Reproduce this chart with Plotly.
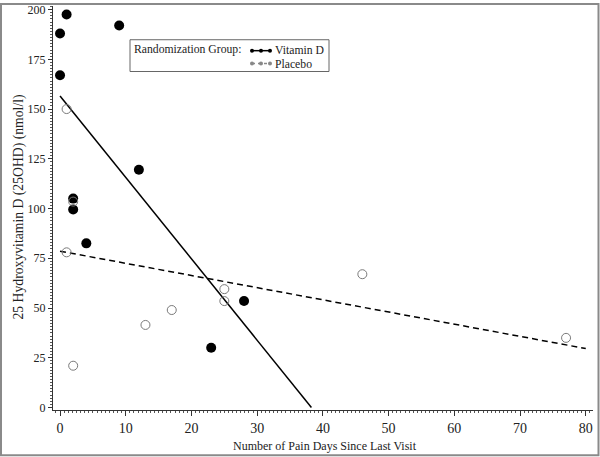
import numpy as np
import plotly.graph_objects as go

# ---- data ----
vitd_days = [0, 1, 0, 9, 12, 2, 2, 4, 23, 28]
vitd_25ohd = [188, 197.5, 167, 192, 119.5, 105, 99.5, 82.5, 30, 53.5]
plac_days = [1, 2, 1, 13, 17, 2, 25, 25, 46, 77]
plac_25ohd = [150, 103.5, 78, 41.5, 49, 21, 59.5, 53.5, 67, 35]
x_ticks = [0, 10, 20, 30, 40, 50, 60, 70, 80]
y_ticks = [0, 25, 50, 75, 100, 125, 150, 175, 200]

FONT = "Liberation Serif, Times New Roman, serif"

# regression fits
bv, av = np.polyfit(vitd_days, vitd_25ohd, 1)
bp, ap = np.polyfit(plac_days, plac_25ohd, 1)
xv_end = -av / bv  # line clipped where it reaches 0
xv = np.array([0, xv_end])
xp = np.array([0, 80])

fig = go.Figure()
fig.add_trace(go.Scatter(x=xv, y=av + bv * xv, mode="lines",
                         line=dict(color="black", width=1.5), showlegend=False))
fig.add_trace(go.Scatter(x=xp, y=ap + bp * xp, mode="lines",
                         line=dict(color="black", width=1.5, dash="6px,4px"), showlegend=False))
fig.add_trace(go.Scatter(x=vitd_days, y=vitd_25ohd, mode="markers",
                         marker=dict(symbol="circle", size=10, color="black",
                                     line=dict(width=0)), showlegend=False))
fig.add_trace(go.Scatter(x=plac_days, y=plac_25ohd, mode="markers",
                         marker=dict(symbol="circle-open", size=9, color="#7a7a7a",
                                     line=dict(width=1)), showlegend=False))

# plot area geometry (pixels)
L, R, T, B = 53, 7, 3, 47
W, H = 600 - L - R, 457 - T - B

def px(x):
    return (x - L) / W

def py(y):
    return (457 - B - y) / H

shapes = [
    # outer frame
    dict(type="rect", xref="paper", yref="paper", x0=px(1), x1=px(598.5), y0=py(455.5), y1=py(1),
         line=dict(color="#8a8a8a", width=2)),
    # legend box
    dict(type="rect", xref="paper", yref="paper", x0=px(130), x1=px(329), y0=py(69), y1=py(37),
         line=dict(color="#666666", width=1), fillcolor="white"),
    dict(type="line", xref="paper", yref="paper", x0=px(252), x1=px(270), y0=py(48), y1=py(48),
         line=dict(color="black", width=1.5)),
    dict(type="line", xref="paper", yref="paper", x0=px(252), x1=px(270), y0=py(61), y1=py(61),
         line=dict(color="#888888", width=1.5, dash="3px,3px")),
]
for cx in (252, 261, 270):
    shapes.append(dict(type="circle", xref="paper", yref="paper",
                       x0=px(cx - 2), x1=px(cx + 2), y0=py(50), y1=py(46),
                       fillcolor="black", line=dict(width=0)))
    shapes.append(dict(type="circle", xref="paper", yref="paper",
                       x0=px(cx - 2), x1=px(cx + 2), y0=py(63), y1=py(59),
                       fillcolor="#888888", line=dict(width=0)))

TXT = "#222"
annotations = [
    dict(text="Randomization Group:", xref="paper", yref="paper", x=px(132), y=py(47),
         xanchor="left", yanchor="middle", showarrow=False, font=dict(family=FONT, size=11.7, color=TXT)),
    dict(text="Vitamin D", xref="paper", yref="paper", x=px(273), y=py(47.5),
         xanchor="left", yanchor="middle", showarrow=False, font=dict(family=FONT, size=11.7, color=TXT)),
    dict(text="Placebo", xref="paper", yref="paper", x=px(273), y=py(61.5),
         xanchor="left", yanchor="middle", showarrow=False, font=dict(family=FONT, size=11.7, color=TXT)),
    dict(text="Number of Pain Days Since Last Visit", xref="paper", yref="paper", x=px(325), y=py(446),
         xanchor="center", yanchor="middle", showarrow=False, font=dict(family=FONT, size=12, color=TXT)),
    dict(text="25 Hydroxyvitamin D (25OHD) (nmol/l)", xref="paper", yref="paper", x=px(19), y=py(206),
         xanchor="center", yanchor="middle", textangle=-90, showarrow=False,
         font=dict(family=FONT, size=13.7, color=TXT)),
]

fig.update_layout(
    width=600, height=457,
    margin=dict(l=L, r=R, t=T, b=B),
    paper_bgcolor="white", plot_bgcolor="white",
    font=dict(family=FONT, color=TXT),
    shapes=shapes, annotations=annotations,
    xaxis=dict(range=[-1.07, 81.1], tickvals=x_ticks, showgrid=False, zeroline=False,
               showline=True, linecolor="#333", linewidth=1,
               ticks="outside", ticklen=5, tickcolor="#333", ticklabeloverflow="allow",
               tickfont=dict(family=FONT, size=14, color=TXT),
               minor=dict(dtick=0.625, ticks="outside", ticklen=2, tickcolor="#555", showgrid=False)),
    yaxis=dict(range=[-1.25, 201.8], tickvals=y_ticks, showgrid=False, zeroline=False,
               showline=True, linecolor="#333", linewidth=1,
               ticks="outside", ticklen=4, tickcolor="#333", ticklabeloverflow="allow",
               tickfont=dict(family=FONT, size=12, color=TXT),
               minor=dict(dtick=1.5625, ticks="outside", ticklen=2, tickcolor="#555", showgrid=False)),
)

fig.write_html("out.html", config={"displayModeBar": False},
               post_script="document.body.style.margin='0';document.body.style.overflow='hidden';")
